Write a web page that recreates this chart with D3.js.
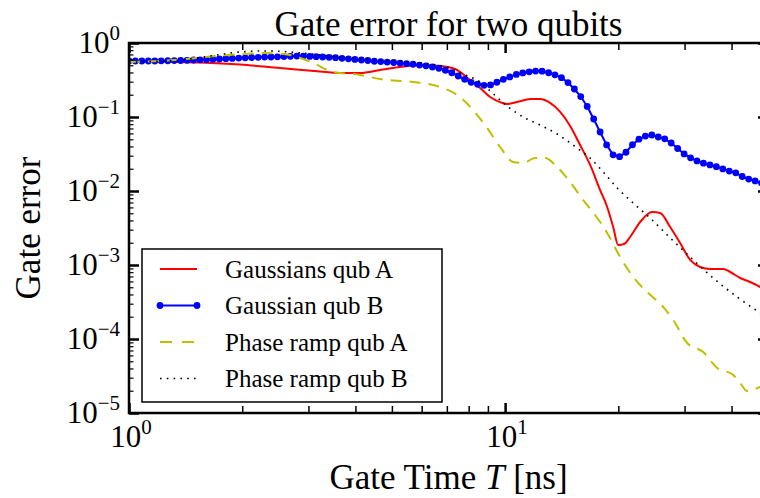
<!DOCTYPE html>
<html>
<head>
<meta charset="utf-8">
<script src="https://cdn.jsdelivr.net/npm/d3@7/dist/d3.min.js"></script>
<style>
  body { margin: 0; background: #fff; }
  text { font-family: "Liberation Serif", "Times New Roman", serif; fill: #000; }
</style>
</head>
<body>
<div id="chart-area"></div>
<script>
// Gate times (ns) and errors
var blueT = [1.000, 1.040, 1.082, 1.126, 1.171, 1.218, 1.268, 1.319, 1.372, 1.427,
    1.485, 1.545, 1.607, 1.672, 1.739, 1.809, 1.882, 1.958, 2.037, 2.119,
    2.205, 2.294, 2.386, 2.482, 2.582, 2.686, 2.795, 2.907, 3.024, 3.146,
    3.273, 3.405, 3.542, 3.685, 3.833, 3.988, 4.149, 4.316, 4.490, 4.671,
    4.859, 5.055, 5.259, 5.471, 5.691, 5.921, 6.159, 6.408, 6.666, 6.935,
    7.214, 7.505, 7.808, 8.122, 8.450, 8.790, 9.145, 9.510, 9.893, 10.29,
    10.71, 11.14, 11.59, 12.05, 12.54, 13.05, 13.57, 14.12, 14.69, 15.28,
    15.89, 16.53, 17.20, 17.89, 18.62, 19.37, 20.15, 20.96, 21.81, 22.69,
    23.60, 24.55, 25.54, 26.57, 27.64, 28.76, 29.92, 31.12, 32.37, 33.68,
    35.04, 36.45, 37.92, 39.45, 41.04, 42.69, 44.42, 46.21, 48.05, 50.00];
var blueErr = [0.571, 0.571, 0.571, 0.571, 0.571, 0.575, 0.576, 0.578, 0.580, 0.584,
    0.589, 0.593, 0.597, 0.602, 0.608, 0.614, 0.619, 0.625, 0.631, 0.637,
    0.641, 0.645, 0.647, 0.651, 0.655, 0.661, 0.665, 0.665, 0.659, 0.653,
    0.647, 0.641, 0.633, 0.621, 0.612, 0.600, 0.589, 0.580, 0.567, 0.561,
    0.552, 0.545, 0.535, 0.525, 0.516, 0.503, 0.492, 0.474, 0.456, 0.428,
    0.396, 0.358, 0.323, 0.294, 0.277, 0.268, 0.271, 0.295, 0.323, 0.348,
    0.376, 0.394, 0.408, 0.417, 0.416, 0.396, 0.371, 0.340, 0.292, 0.239,
    0.189, 0.139, 0.0940, 0.0627, 0.0420, 0.0308, 0.0291, 0.0334, 0.0422, 0.0501,
    0.0552, 0.0571, 0.0537, 0.0507, 0.0445, 0.0375, 0.0317, 0.0281, 0.0255, 0.0238,
    0.0225, 0.0213, 0.0199, 0.0186, 0.0176, 0.0157, 0.0145, 0.0137, 0.0128, 0.0121];

var redT = [1.000, 1.209, 1.545, 1.973, 2.521, 3.221, 3.641, 4.116, 4.652, 5.257,
    5.942, 6.716, 7.362, 8.071, 8.580, 9.124, 9.699, 10.12, 10.76, 11.66,
    12.39, 13.17, 14.01, 14.89, 15.83, 16.83, 17.89, 18.68, 19.38, 19.98,
    20.73, 21.49, 22.86, 24.60, 25.84, 27.47, 29.20, 31.05, 33.00, 35.09,
    38.00, 39.67, 42.17, 44.83, 47.67, 50.00];
var redErr = [0.571, 0.562, 0.545, 0.512, 0.459, 0.412, 0.393, 0.393, 0.432, 0.474,
    0.504, 0.489, 0.445, 0.316, 0.247, 0.186, 0.159, 0.150, 0.159, 0.175,
    0.175, 0.155, 0.117, 0.0755, 0.0418, 0.0225, 0.0103, 0.00608, 0.00326, 0.00186,
    0.00192, 0.00239, 0.00381, 0.00520, 0.00504, 0.00326, 0.00198, 0.00117, 0.000940, 0.000883,
    0.000883, 0.000804, 0.000667, 0.000589, 0.000504, 0.000431];

var yelT = [1.000, 1.209, 1.427, 1.693, 2.010, 2.300, 2.681, 3.086, 3.488, 4.116,
    4.652, 5.692, 6.716, 7.592, 8.221, 8.958, 9.699, 10.50, 11.16, 12.02,
    12.78, 13.75, 14.89, 16.13, 17.35, 18.68, 20.23, 21.90, 23.86, 26.32,
    27.98, 30.48, 33.62, 36.64, 40.42, 42.17, 44.02, 45.66, 47.67, 50.00];
var yelErr = [0.553, 0.571, 0.608, 0.667, 0.710, 0.733, 0.688, 0.537, 0.406, 0.370,
    0.326, 0.297, 0.254, 0.186, 0.124, 0.0710, 0.0393, 0.0247, 0.0239, 0.0279,
    0.0279, 0.0211, 0.0132, 0.00755, 0.00474, 0.00271, 0.00128, 0.000689, 0.000431, 0.000271,
    0.000181, 0.0000883, 0.0000667, 0.0000406, 0.0000326, 0.0000254, 0.0000198, 0.0000205, 0.0000225, 0.0000235];

var dotT = [1.000, 1.366, 1.642, 1.973, 2.300, 2.681, 3.221, 3.871, 4.652, 5.590,
    6.318, 7.141, 7.829, 8.580, 9.124, 10.12, 11.16, 12.39, 13.75, 15.54,
    16.83, 18.23, 19.86, 21.90, 24.30, 27.47, 31.43, 35.74, 41.40, 47.67, 50.00];
var dotErr = [0.553, 0.589, 0.667, 0.756, 0.780, 0.756, 0.688, 0.627, 0.589, 0.553,
    0.520, 0.459, 0.370, 0.297, 0.225, 0.141, 0.100, 0.0780, 0.0589, 0.0381,
    0.0279, 0.0181, 0.0110, 0.00688, 0.00431, 0.00232, 0.00121, 0.000667, 0.000369, 0.000225, 0.000192];

var seriesNames = ["Gaussians qub A", "Gaussian qub B", "Phase ramp qub A", "Phase ramp qub B"];
var yTickVals = [1e-5, 1e-4, 1e-3, 1e-2, 1e-1, 1];
var yTickExp = ["\u22125", "\u22124", "\u22123", "\u22122", "\u22121", "0"];
var xTickVals = [1, 10];
var xTickExp = ["0", "1"];

var W = 760, H = 498;
var margin = { left: 129, top: 43 },
    width = 639, height = 370;

var svg = d3.select("#chart-area").append("svg")
    .attr("width", W).attr("height", H);

var x = d3.scaleLog().domain([1, 50]).range([margin.left, margin.left + width]);
var y = d3.scaleLog().domain([1e-5, 1]).range([margin.top + height, margin.top]);

svg.append("clipPath").attr("id", "plot-clip")
  .append("rect")
    .attr("x", margin.left).attr("y", margin.top)
    .attr("width", width).attr("height", height);

function pairs(ts, es) { return ts.map(function(t, i){ return [t, es[i]]; }); }

var line = d3.line()
    .x(function(d){ return x(d[0]); })
    .y(function(d){ return y(d[1]); })
    .curve(d3.curveMonotoneX);

var plot = svg.append("g").attr("clip-path", "url(#plot-clip)");

// Gaussians qub A
plot.append("path")
    .attr("d", line(pairs(redT, redErr)))
    .attr("fill", "none").attr("stroke", "#ff0000").attr("stroke-width", 2);

// Gaussian qub B (line + markers)
var blueData = pairs(blueT, blueErr);
plot.append("path")
    .attr("d", d3.line().x(function(d){ return x(d[0]); }).y(function(d){ return y(d[1]); })(blueData))
    .attr("fill", "none").attr("stroke", "#0000ff").attr("stroke-width", 2);
plot.selectAll(".blue-pt").data(blueData).enter().append("circle")
    .attr("class", "blue-pt")
    .attr("cx", function(d){ return x(d[0]); })
    .attr("cy", function(d){ return y(d[1]); })
    .attr("r", 3.4)
    .attr("fill", "#0000ff");

// Phase ramp qub A
plot.append("path")
    .attr("d", line(pairs(yelT, yelErr)))
    .attr("fill", "none").attr("stroke", "#bfbf00").attr("stroke-width", 2)
    .attr("stroke-dasharray", "11,8");

// Phase ramp qub B
plot.append("path")
    .attr("d", line(pairs(dotT, dotErr)))
    .attr("fill", "none").attr("stroke", "#000").attr("stroke-width", 1.6)
    .attr("stroke-dasharray", "1.6,5.2");

// Ticks (inward, all four sides)
var xMinor = [2, 3, 4, 5, 6, 7, 8, 9, 20, 30, 40];
var yMinor = [];
yTickVals.slice(0, 5).forEach(function(v){
    for (var k = 2; k <= 9; k++) yMinor.push(v * k);
});

function styleAxis(g, w) {
    g.select(".domain").remove();
    g.selectAll(".tick line").attr("stroke", "#000").attr("stroke-width", w);
}

svg.append("g").attr("transform", "translate(0," + (margin.top + height) + ")")
    .call(d3.axisBottom(x).tickValues(xMinor).tickSize(-7).tickFormat(""))
    .call(styleAxis, 1.5);
svg.append("g").attr("transform", "translate(0," + (margin.top + height) + ")")
    .call(d3.axisBottom(x).tickValues(xTickVals).tickSize(-10).tickFormat(""))
    .call(styleAxis, 2.5);
svg.append("g").attr("transform", "translate(0," + margin.top + ")")
    .call(d3.axisTop(x).tickValues(xMinor).tickSize(-7).tickFormat(""))
    .call(styleAxis, 1.5);
svg.append("g").attr("transform", "translate(0," + margin.top + ")")
    .call(d3.axisTop(x).tickValues(xTickVals).tickSize(-10).tickFormat(""))
    .call(styleAxis, 2.5);
svg.append("g").attr("transform", "translate(" + margin.left + ",0)")
    .call(d3.axisLeft(y).tickValues(yMinor).tickSize(-4.5).tickFormat(""))
    .call(styleAxis, 1.2);
svg.append("g").attr("transform", "translate(" + margin.left + ",0)")
    .call(d3.axisLeft(y).tickValues(yTickVals).tickSize(-10).tickFormat(""))
    .call(styleAxis, 2.5);
svg.append("g").attr("transform", "translate(" + (margin.left + width) + ",0)")
    .call(d3.axisRight(y).tickValues(yMinor).tickSize(-4.5).tickFormat(""))
    .call(styleAxis, 1.2);
svg.append("g").attr("transform", "translate(" + (margin.left + width) + ",0)")
    .call(d3.axisRight(y).tickValues(yTickVals).tickSize(-10).tickFormat(""))
    .call(styleAxis, 2.5);

// Frame
svg.append("rect")
    .attr("x", margin.left).attr("y", margin.top)
    .attr("width", width).attr("height", height)
    .attr("fill", "none").attr("stroke", "#000").attr("stroke-width", 2.5);

// Tick labels: 10^n
var yLab = svg.selectAll(".ylab").data(yTickVals).enter().append("text")
    .attr("class", "ylab")
    .attr("x", margin.left - 9)
    .attr("y", function(d){ return y(d) + 10; })
    .attr("text-anchor", "end")
    .style("font-size", "31px");
yLab.append("tspan").text("10");
yLab.append("tspan").attr("dy", -13).style("font-size", "21px")
    .text(function(d, i){ return yTickExp[i]; });

var xLab = svg.selectAll(".xlab").data(xTickVals).enter().append("text")
    .attr("class", "xlab")
    .attr("x", function(d){ return x(d) + 2; })
    .attr("y", margin.top + height + 34)
    .attr("text-anchor", "middle")
    .style("font-size", "31px");
xLab.append("tspan").text("10");
xLab.append("tspan").attr("dy", -13).style("font-size", "21px")
    .text(function(d, i){ return xTickExp[i]; });

// Title and axis labels
svg.append("text")
    .attr("x", margin.left + width / 2).attr("y", 36)
    .attr("text-anchor", "middle")
    .style("font-size", "35px")
    .text("Gate error for two qubits");

var xl = svg.append("text")
    .attr("x", margin.left + width / 2).attr("y", 489)
    .attr("text-anchor", "middle")
    .style("font-size", "35px");
xl.append("tspan").text("Gate Time ");
xl.append("tspan").style("font-style", "italic").text("T");
xl.append("tspan").text(" [ns]");

svg.append("text")
    .attr("transform", "translate(40," + (margin.top + height / 2) + ") rotate(-90)")
    .attr("text-anchor", "middle")
    .style("font-size", "35px")
    .text("Gate error");

// Legend
var legend = svg.append("g").attr("transform", "translate(142,249)");
legend.append("rect")
    .attr("width", 300).attr("height", 153)
    .attr("fill", "#fff").attr("stroke", "#000").attr("stroke-width", 1.5);

var legStyles = [
    { color: "#ff0000", width: 2, dash: null, marker: false },
    { color: "#0000ff", width: 2, dash: null, marker: true },
    { color: "#bfbf00", width: 2, dash: "12,10", marker: false },
    { color: "#000", width: 1.6, dash: "1.6,5.2", marker: false }
];
seriesNames.forEach(function(name, i){
    var yy = 20 + i * 36.5;
    var s = legStyles[i];
    legend.append("line")
        .attr("x1", 18).attr("x2", 55).attr("y1", yy).attr("y2", yy)
        .attr("stroke", s.color).attr("stroke-width", s.width)
        .attr("stroke-dasharray", s.dash);
    if (s.marker) {
        [18, 55].forEach(function(cx){
            legend.append("circle").attr("cx", cx).attr("cy", yy).attr("r", 3.4).attr("fill", s.color);
        });
    }
    legend.append("text")
        .attr("x", 83).attr("y", yy + 8.5)
        .style("font-size", "25px")
        .text(name);
});
</script>
</body>
</html>
